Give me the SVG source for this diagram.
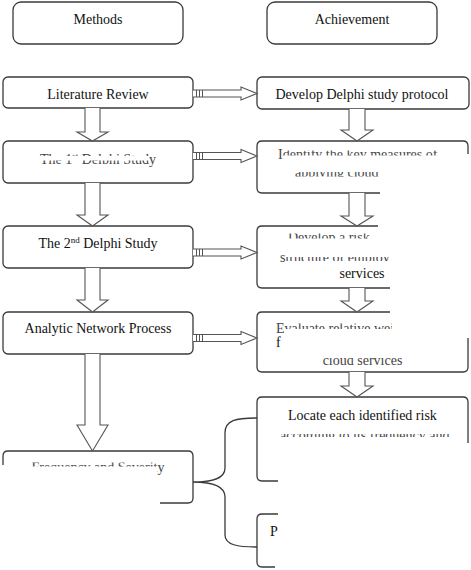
<svg xmlns="http://www.w3.org/2000/svg" width="471" height="570" viewBox="0 0 471 570">
<style>
.box{fill:none;stroke:#3a3a3a;stroke-width:1.3}
.arr{fill:#fff;stroke:#555;stroke-width:1.1}
.tk{stroke:#555;stroke-width:1}
text{font-family:"Liberation Serif","Times New Roman",serif;font-size:14px;fill:#111}
.c{text-anchor:middle}
.f{fill:#444}
</style>
<defs>
<clipPath id="k1" clipPathUnits="userSpaceOnUse"><rect x="0" y="152.5" width="200" height="3.5"/><rect x="0" y="160.5" width="200" height="3.5"/><rect x="149" y="148" width="12" height="22"/></clipPath>
<clipPath id="k2" clipPathUnits="userSpaceOnUse"><rect x="270" y="150.5" width="190" height="5"/><rect x="276" y="147" width="7" height="14"/></clipPath>
<clipPath id="k3" clipPathUnits="userSpaceOnUse"><rect x="280" y="172" width="101" height="4.5"/></clipPath>
<clipPath id="k4" clipPathUnits="userSpaceOnUse"><rect x="280" y="233.5" width="96" height="5"/></clipPath>
<clipPath id="k5" clipPathUnits="userSpaceOnUse"><rect x="270" y="257" width="120" height="4"/><rect x="278" y="253" width="8" height="10"/></clipPath>
<clipPath id="k6" clipPathUnits="userSpaceOnUse"><rect x="270" y="323.5" width="122" height="5.5"/><rect x="275" y="321" width="9" height="13"/></clipPath>
<clipPath id="k7" clipPathUnits="userSpaceOnUse"><rect x="300" y="358" width="120" height="7"/></clipPath>
<clipPath id="k8" clipPathUnits="userSpaceOnUse"><rect x="270" y="434" width="190" height="3"/></clipPath>
<clipPath id="k9" clipPathUnits="userSpaceOnUse"><rect x="20" y="462.5" width="160" height="4"/><rect x="157" y="458" width="10" height="18"/></clipPath>
</defs>

<g id="hdr-methods"><rect class="box" x="13" y="2" width="170" height="42" rx="8"/><text class="c" x="98" y="24">Methods</text></g>
<g id="hdr-achievement"><rect class="box" x="267" y="2" width="170" height="42" rx="8"/><text class="c" x="352" y="24">Achievement</text></g>

<g id="n-lit"><rect class="box" x="3" y="77" width="190" height="31" rx="5"/><text class="c" x="98" y="99">Literature Review</text></g>
<g id="n-d1"><rect class="box" x="3" y="141" width="190" height="42" rx="5"/><text class="c f" x="98" y="164" clip-path="url(#k1)">The 1<tspan font-size="9" dy="-5">st</tspan><tspan dy="5"> Delphi Study</tspan></text></g>
<g id="n-d2"><rect class="box" x="3" y="226" width="190" height="42" rx="5"/><text class="c" x="98" y="248">The 2<tspan font-size="9" dy="-5">nd</tspan><tspan dy="5"> Delphi Study</tspan></text></g>
<g id="n-anp"><rect class="box" x="3" y="312" width="190" height="42" rx="5"/><text class="c" x="98" y="333">Analytic Network Process</text></g>
<g id="n-fs"><path class="box" d="M3,465 V456 Q3,451 8,451 H188 Q193,451 193,456 V498 Q193,503 188,503 H160"/><text class="c f" x="98" y="472" clip-path="url(#k9)">Frequency and Severity</text></g>

<g id="n-proto"><rect class="box" x="257" y="77" width="212" height="32" rx="5"/><text class="c" x="362" y="99">Develop Delphi study protocol</text></g>
<g id="n-ident"><path class="box" d="M380,193 H262 Q257,193 257,188 V146 Q257,141 262,141 H463 Q468,141 468,146 V154"/><text class="f" x="278" y="159" clip-path="url(#k2)">Identify the key measures of</text><text class="f" x="295" y="177" clip-path="url(#k3)">applying cloud</text></g>
<g id="n-risk"><path class="box" d="M378,226 H262 Q257,226 257,231 V283 Q257,288 262,288 H390"/><text class="f" x="288" y="242" clip-path="url(#k4)">Develop a risk</text><text class="f" x="280" y="262" clip-path="url(#k5)">structure of employing</text><text class="c" x="362" y="278">services</text></g>
<g id="n-eval"><path class="box" d="M390,312 H262 Q257,312 257,317 V367 Q257,372 262,372 H463 Q468,372 468,367 V338"/><text class="f" x="276" y="333" clip-path="url(#k6)">Evaluate relative wei</text><text x="276" y="347">f</text><text class="c f" x="362.5" y="365" clip-path="url(#k7)">cloud services</text></g>
<g id="n-locate"><path class="box" d="M468,443 V402 Q468,397 463,397 H262 Q257,397 257,402 V476 Q257,481 262,481 H278"/><text x="288" y="420">Locate each identified risk</text><text class="f" x="280" y="440" clip-path="url(#k8)">according to its frequency and</text></g>
<g id="n-p"><path class="box" d="M278,514 H262 Q257,514 257,519 V562 Q257,567 262,567 H275"/><text x="270" y="536">P</text></g>

<g id="connectors">
<path class="arr" d="M85,108 V132 H77 L92.5,141 L108,132 H100 V108"/>
<path class="arr" d="M85,183 V215 H77 L92.5,226 L108,215 H100 V183"/>
<path class="arr" d="M85,268 V300 H77 L92.5,312 L108,300 H100 V268"/>
<path class="arr" d="M85,354 V425 H77 L92.5,451 L108,425 H100 V354"/>
<path class="arr" d="M349,109 V130 H341 L357,141 L373,130 H365 V109"/>
<path class="arr" d="M349,193 V216 H341 L357,226 L373,216 H365 V193"/>
<path class="arr" d="M349,288 V301 H341 L357,312 L373,301 H365 V288"/>
<path class="arr" d="M349,372 V386 H341 L357,397 L373,386 H365 V372"/>
<path class="arr" d="M193,90 H241 V87 L257,93.5 L241,100 V97 H193"/>
<path class="tk" d="M196.5,90 V97 M199.5,90 V97 M202.5,90 V97"/>
<path class="arr" d="M193,152.5 H241 V149.5 L257,156 L241,162.5 V159.5 H193"/>
<path class="tk" d="M196.5,152.5 V159.5 M199.5,152.5 V159.5 M202.5,152.5 V159.5"/>
<path class="arr" d="M193,249 H241 V246 L257,252.5 L241,259 V256 H193"/>
<path class="tk" d="M196.5,249 V256 M199.5,249 V256 M202.5,249 V256"/>
<path class="arr" d="M193,334.5 H241 V331.5 L257,338 L241,344.5 V341.5 H193"/>
<path class="tk" d="M196.5,334.5 V341.5 M199.5,334.5 V341.5 M202.5,334.5 V341.5"/>
<path d="M257,418 C236,418 225,420 225,433 L225,468 C225,479 212,482 193,482 C212,482 225,486 225,497 L225,535 C225,545 238,547 257,547" fill="none" stroke="#3a3a3a" stroke-width="1.3"/>
</g>
</svg>
